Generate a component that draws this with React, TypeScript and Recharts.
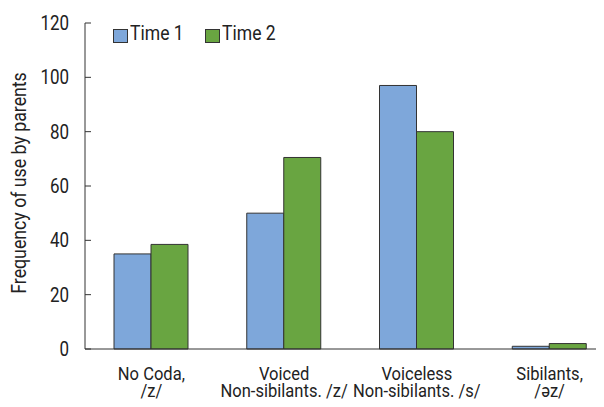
import React from 'react';
import { BarChart, Bar, XAxis, YAxis } from 'recharts';

const categories = ['No Coda,|/z/', 'Voiced|Non-sibilants. /z/', 'Voiceless|Non-sibilants. /s/', 'Sibilants,|/əz/'];
const seriesNames = ['Time 1', 'Time 2'];
const time1 = [35, 50, 97, 1];
const time2 = [38.5, 70.5, 80, 2];
const yTicks = [0, 20, 40, 60, 80, 100, 120];
const yTitle = 'Frequency of use by parents';

const data = categories.map((c, i) => ({ cat: c, t1: time1[i], t2: time2[i] }));

const FONT = 'Roboto, "Noto Sans", sans-serif';
const FS = 19.5;
const SX = 0.87;
const BLUE = '#7ea7da';
const GREEN = '#69a541';
const AXIS = '#333';
const TEXT = '#222';

const CatTick = (props: any) => {
  const { x, y, payload } = props;
  const lines = String(payload.value).split('|');
  return (
    <g>
      {lines.map((l, i) => (
        <g key={i} transform={`translate(${x},${y + (i === 0 ? 23 : 40)}) scale(0.92,1)`}>
          <text x={0} y={0} textAnchor="middle" fontFamily={FONT} fontSize={18} fill={TEXT}>{l}</text>
        </g>
      ))}
    </g>
  );
};

const YTick = (props: any) => {
  const { x, y, payload } = props;
  return (
    <g transform={`translate(${x},${y + 7}) scale(${SX},1)`}>
      <text x={0} y={0} textAnchor="end" fontFamily={FONT} fontSize={FS} fill={TEXT}>
        {payload.value}
      </text>
    </g>
  );
};

const YLabel = (props: any) => {
  const { viewBox } = props;
  const cx = 20;
  const cy = viewBox.y + viewBox.height / 2 - 3;
  return (
    <g transform={`translate(${cx},${cy}) rotate(-90) scale(0.91,1)`}>
      <text x={0} y={0} textAnchor="middle" dominantBaseline="central" fontFamily={FONT} fontSize={FS} fill={TEXT}>
        {yTitle}
      </text>
    </g>
  );
};

const swatch = (left: number, color: string): React.CSSProperties => ({
  position: 'absolute', left, top: 29, width: 13, height: 12, background: color, border: `1px solid ${AXIS}`,
});
const legText = (left: number): React.CSSProperties => ({
  position: 'absolute', left, top: 23, fontFamily: FONT, fontSize: FS, lineHeight: '22px', color: TEXT,
  whiteSpace: 'nowrap', transform: 'scale(0.9,1)', transformOrigin: 'left center',
});

const LegendBox = () => (
  <>
    <span style={swatch(113, BLUE)} />
    <span style={legText(130)}>{seriesNames[0]}</span>
    <span style={swatch(205, GREEN)} />
    <span style={legText(222)}>{seriesNames[1]}</span>
  </>
);

export default function App() {
  return (
    <div style={{ margin: -8, width: 604, height: 407, overflow: 'hidden', background: '#fff', position: 'relative' }}>
      <BarChart
        width={616}
        height={407}
        data={data}
        margin={{ top: 23, right: 0, left: 0, bottom: 0 }}
        barCategoryGap={29}
        barGap={0}
      >
        <XAxis
          dataKey="cat"
          axisLine={{ stroke: AXIS }}
          tickLine={false}
          tick={<CatTick />}
          height={58}
          interval={0}
        />
        <YAxis
          domain={[0, 120]}
          ticks={yTicks}
          width={85}
          axisLine={{ stroke: AXIS }}
          tickLine={{ stroke: AXIS }}
          tickSize={-6}
          tickMargin={22}
          tick={<YTick />}
          label={<YLabel />}
        />
        <Bar dataKey="t1" name={seriesNames[0]} fill={BLUE} stroke={AXIS} strokeWidth={1} isAnimationActive={false} />
        <Bar dataKey="t2" name={seriesNames[1]} fill={GREEN} stroke={AXIS} strokeWidth={1} isAnimationActive={false} />
      </BarChart>
      <LegendBox />
    </div>
  );
}
